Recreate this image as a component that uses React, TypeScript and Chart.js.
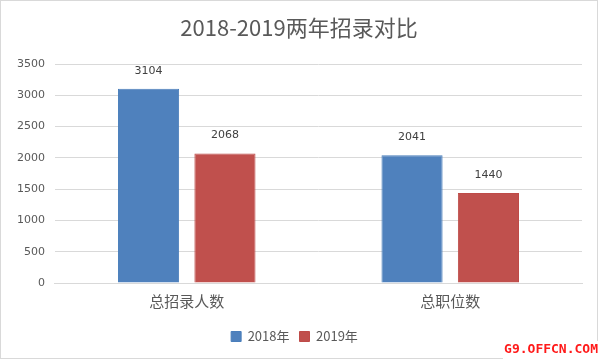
import React, { useEffect, useRef } from "react";
import { Chart, registerables } from "chart.js";

Chart.register(...registerables);

const categories = ["总招录人数", "总职位数"];
const series2018 = [3104, 2041];
const series2019 = [2068, 1440];
const seriesLabels = ["2018年", "2019年"];
const titleText = "2018-2019两年招录对比";
const watermark = "G9.OFFCN.COM";

const FONT = "'Noto Sans CJK SC', 'Noto Sans', sans-serif";
const NUMFONT = "'DejaVu Sans', sans-serif";

export default function App() {
  const ref = useRef<HTMLCanvasElement | null>(null);
  useEffect(() => {
    document.body.style.margin = "0";
    const canvas = ref.current!;
    const labelPlugin = {
      id: "valueLabels",
      afterDatasetsDraw(chart: any) {
        const ctx = chart.ctx;
        ctx.save();
        ctx.font = "11px " + NUMFONT;
        ctx.fillStyle = "#404040";
        ctx.textAlign = "center";
        ctx.textBaseline = "middle";
        chart.data.datasets.forEach((ds: any, i: number) => {
          const meta = chart.getDatasetMeta(i);
          meta.data.forEach((bar: any, j: number) => {
            ctx.fillText(String(ds.data[j]), bar.x, bar.y - 18);
          });
        });
        ctx.restore();
      },
      afterDraw(chart: any) {
        const ctx = chart.ctx;
        ctx.save();
        ctx.font = "22px " + FONT;
        ctx.fillStyle = "#595959";
        ctx.textAlign = "center";
        ctx.textBaseline = "middle";
        ctx.fillText(titleText, 299, 28);
        ctx.strokeStyle = "#D9D9D9";
        ctx.lineWidth = 1;
        ctx.strokeRect(0.5, 0.5, 597, 358);
        ctx.fillStyle = "#FFFFFF";
        ctx.fillRect(503, 341, 97, 20);
        ctx.font = "bold 13px 'DejaVu Sans Mono', monospace";
        ctx.fillStyle = "#FF1A1A";
        ctx.textAlign = "right";
        ctx.textBaseline = "middle";
        ctx.fillText(watermark, 598, 350);
        ctx.restore();
      },
    };
    const chart = new Chart(canvas, {
      type: "bar",
      data: {
        labels: categories,
        datasets: [
          {
            label: seriesLabels[0],
            data: series2018,
            backgroundColor: "#4F81BD",
            borderColor: "#4A7EBB",
            borderWidth: 1,
          },
          {
            label: seriesLabels[1],
            data: series2019,
            backgroundColor: "#C0504D",
            borderColor: "#BE4B48",
            borderWidth: 1,
          },
        ],
      },
      options: {
        responsive: false,
        animation: false,
        maintainAspectRatio: false,
        layout: { padding: { left: 7, right: 18, top: 64, bottom: 8 } },
        datasets: {
          bar: { categoryPercentage: 0.58, barPercentage: 0.8 },
        },
        plugins: {
          title: { display: false },
          legend: {
            display: true,
            position: "bottom",
            labels: {
              color: "#595959",
              font: { family: FONT, size: 13 },
              boxWidth: 10,
              boxHeight: 10,
              padding: 10,
            },
          },
          tooltip: { enabled: false },
        },
        scales: {
          x: {
            grid: { display: false },
            border: { display: true, color: "#D9D9D9" },
            ticks: {
              color: "#595959",
              font: { family: FONT, size: 15 },
              padding: 1,
            },
            afterFit: (scale: any) => {
              scale.height += 9;
            },
          },
          y: {
            min: 0,
            max: 3500,
            ticks: {
              stepSize: 500,
              color: "#595959",
              font: { family: NUMFONT, size: 11 },
              padding: 10,
              callback: (v: any) => String(v),
            },
            grid: { color: "#D9D9D9", drawTicks: false },
            border: { display: false },
          },
        },
      },
      plugins: [labelPlugin],
    });
    return () => chart.destroy();
  }, []);
  return <canvas ref={ref} width={600} height={361} style={{ display: "block" }} />;
}
